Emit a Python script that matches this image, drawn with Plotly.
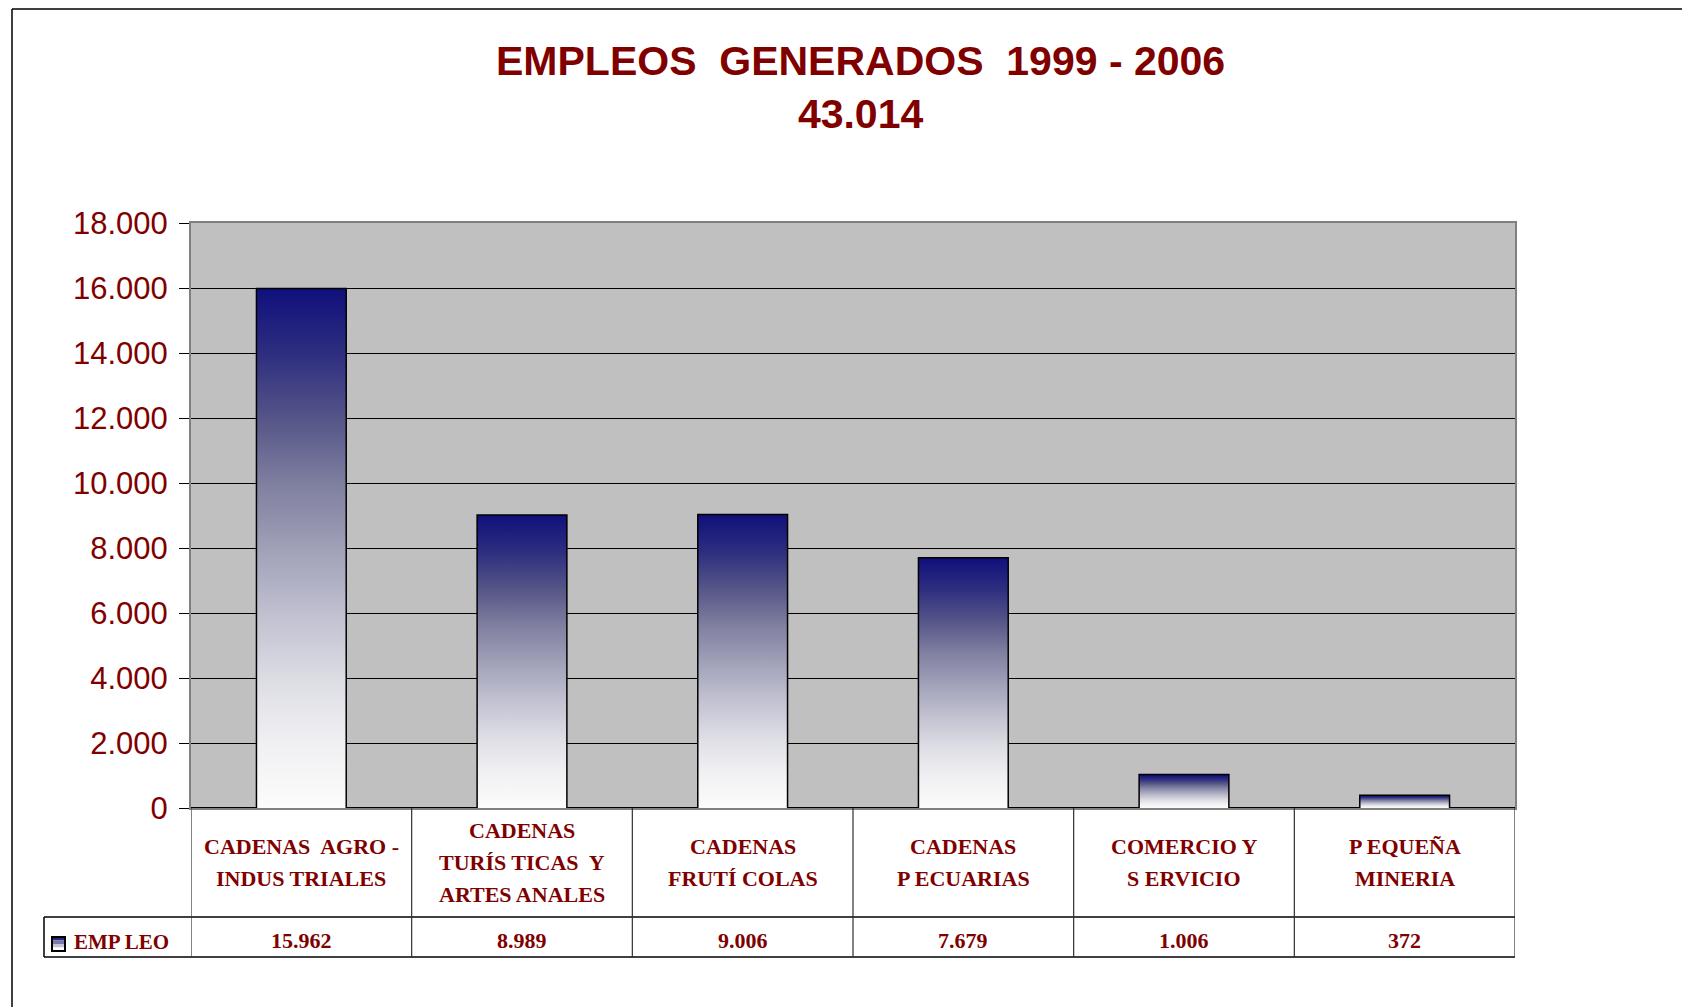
import plotly.graph_objects as go

# ---------------- data ----------------
category_lines = [
    ["CADENAS  AGRO -", "INDUS TRIALES"],
    ["CADENAS", "TURÍS TICAS  Y", "ARTES ANALES"],
    ["CADENAS", "FRUTÍ COLAS"],
    ["CADENAS", "P ECUARIAS"],
    ["COMERCIO Y", "S ERVICIO"],
    ["P EQUEÑA", "MINERIA"],
]
empleo = [15962, 8989, 9006, 7679, 1006, 372]
series_name = "EMP LEO"
title_text = "EMPLEOS  GENERADOS  1999 - 2006"
y_ticks = [0, 2000, 4000, 6000, 8000, 10000, 12000, 14000, 16000, 18000]

# ---------------- layout constants (page pixels) ----------------
OFF = 8                      # page body margin
PAGE_W, PAGE_H = 1690, 1007
W, H = PAGE_W - OFF, PAGE_H - OFF
PLOT_L, PLOT_R, PLOT_T, PLOT_B = 191, 1515, 223, 808
L, R, T, B = PLOT_L - OFF, PAGE_W - PLOT_R, PLOT_T - OFF, PAGE_H - PLOT_B
PW, PH = PLOT_R - PLOT_L, PLOT_B - PLOT_T

MAROON = "#800000"
SERIF = "Liberation Serif, Times New Roman, serif"
SANS = "Liberation Sans, Arial, sans-serif"
GRAD = [[0.0, "#fcfcfc"], [0.125, "#f0f0f3"], [0.25, "#dcdce4"],
        [0.375, "#c0c0d0"], [0.5, "#a0a0b8"], [0.625, "#7f7fa0"],
        [0.75, "#555588"], [0.875, "#2e2e80"], [1.0, "#10107c"]]


def px_x(px):
    return (px - PLOT_L) / PW


def px_y(py):
    return (PLOT_B - py) / PH


def fmt(v):
    return f"{v:,}".replace(",", ".")


n = len(empleo)
bw = 0.4
fig = go.Figure()

# gradient fills for each bar
for i, v in enumerate(empleo):
    fig.add_trace(go.Scatter(
        x=[i - bw / 2, i + bw / 2, i + bw / 2, i - bw / 2, i - bw / 2],
        y=[0, 0, v, v, 0],
        mode="lines", fill="toself",
        fillgradient=dict(type="vertical", colorscale=GRAD),
        line=dict(width=0), hoverinfo="skip", showlegend=False,
    ))

# bar outlines
fig.add_trace(go.Bar(
    x=list(range(n)), y=empleo, width=bw, name=series_name,
    marker=dict(color="rgba(0,0,0,0)", line=dict(color="black", width=3)),
    showlegend=False,
))

annotations = []
shapes = []

# title
annotations.append(dict(
    x=px_x(861), y=px_y(88), xref="paper", yref="paper",
    text=f"<b>{title_text}<br>{fmt(sum(empleo))}</b>",
    showarrow=False, xanchor="center", yanchor="middle",
    font=dict(family=SANS, size=41, color=MAROON),
))

# category labels (table row 1)
row1_top, row1_bot, row2_bot = PLOT_B, 917, 957
line_gap = 32
for i, lines in enumerate(category_lines):
    mid = (row1_top + row1_bot) / 2
    k = len(lines)
    for j, ln in enumerate(lines):
        yc = mid + (j - (k - 1) / 2) * line_gap
        annotations.append(dict(
            x=i, y=px_y(yc), xref="x", yref="paper", text=f"<b>{ln}</b>",
            showarrow=False, xanchor="center", yanchor="middle",
            font=dict(family=SERIF, size=22, color=MAROON),
        ))

# values (table row 2)
for i, v in enumerate(empleo):
    annotations.append(dict(
        x=i, y=px_y(940), xref="x", yref="paper", text=f"<b>{fmt(v)}</b>",
        showarrow=False, xanchor="center", yanchor="middle",
        font=dict(family=SERIF, size=22, color=MAROON),
    ))

# legend label
annotations.append(dict(
    x=px_x(72), y=px_y(942), xref="paper", yref="paper", text=f"<b>{series_name}</b>",
    showarrow=False, xanchor="left", yanchor="middle",
    font=dict(family=SERIF, size=21, color=MAROON),
))

# table lines
grid_col = "#303030"
for yy in (row1_bot, row2_bot):
    shapes.append(dict(type="line", xref="paper", yref="paper",
                       x0=px_x(44), x1=px_x(PLOT_R), y0=px_y(yy), y1=px_y(yy),
                       line=dict(color="black", width=1.5)))
for k in range(n + 1):
    shapes.append(dict(type="line", xref="x", yref="paper",
                       x0=k - 0.5, x1=k - 0.5, y0=px_y(row1_top), y1=px_y(row2_bot),
                       line=dict(color=grid_col, width=1.2)))
shapes.append(dict(type="line", xref="paper", yref="paper",
                   x0=px_x(44), x1=px_x(44), y0=px_y(row1_bot), y1=px_y(row2_bot),
                   line=dict(color="black", width=1.5)))

# legend key (small gradient-like square)
kx0, kx1, ky0, ky1 = 52, 65, 937, 951
bands = ["#2a2a82", "#7a7aa8", "#c4c4d6", "#ffffff"]
bh = (ky1 - ky0) / len(bands)
for b, c in enumerate(bands):
    shapes.append(dict(type="rect", xref="paper", yref="paper",
                       x0=px_x(kx0), x1=px_x(kx1),
                       y0=px_y(ky0 + b * bh), y1=px_y(ky0 + (b + 1) * bh),
                       fillcolor=c, line=dict(width=0)))
shapes.append(dict(type="rect", xref="paper", yref="paper",
                   x0=px_x(kx0), x1=px_x(kx1), y0=px_y(ky0), y1=px_y(ky1),
                   line=dict(color="black", width=2)))

# outer frame (top and left)
shapes.append(dict(type="line", xref="paper", yref="paper",
                   x0=px_x(12), x1=px_x(PAGE_W), y0=px_y(OFF + 1), y1=px_y(OFF + 1),
                   line=dict(color="black", width=1.5)))
shapes.append(dict(type="line", xref="paper", yref="paper",
                   x0=px_x(12), x1=px_x(12), y0=px_y(OFF + 1), y1=px_y(PAGE_H),
                   line=dict(color="black", width=1.5)))

fig.update_layout(
    width=W, height=H,
    margin=dict(l=L, r=R, t=T, b=B, pad=0),
    paper_bgcolor="white", plot_bgcolor="#c0c0c0",
    separators=",.",
    showlegend=False,
    annotations=annotations, shapes=shapes,
    xaxis=dict(range=[-0.5, n - 0.5], showticklabels=False, showgrid=False,
               zeroline=False, showline=True, mirror=True,
               linecolor="#808080", linewidth=2, ticks=""),
    yaxis=dict(range=[0, 18000], tickvals=y_ticks, tickformat=",.0f",
               showgrid=True, gridcolor="black", gridwidth=1,
               zeroline=True, zerolinecolor="black", zerolinewidth=2,
               showline=True, mirror=True, linecolor="#808080", linewidth=2,
               ticks="outside", ticklen=10, tickcolor="black", tickwidth=1,
               ticklabelstandoff=5,
               tickfont=dict(family=SANS, size=31, color=MAROON)),
)

fig.write_html("out.html")
